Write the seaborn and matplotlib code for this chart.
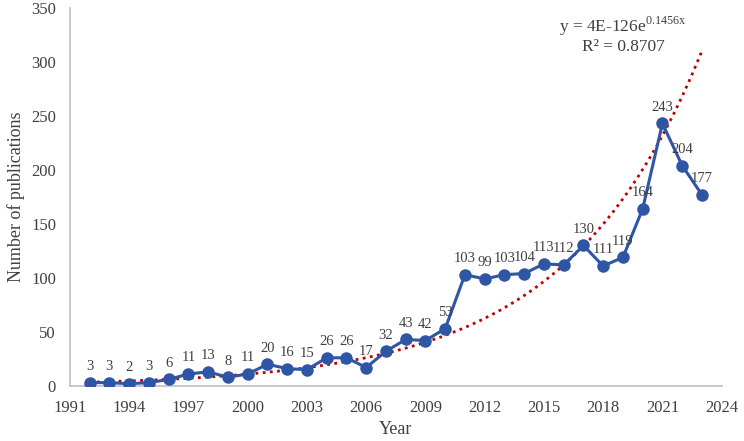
import numpy as np
import pandas as pd
import matplotlib
matplotlib.use("Agg")
import matplotlib.pyplot as plt
import seaborn as sns

# publications par année
years = list(range(1992, 2024))
counts = [3, 3, 2, 3, 6, 11, 13, 8, 11, 20, 16, 15, 26, 26, 17, 32,
          43, 42, 53, 103, 99, 103, 104, 113, 112, 130, 111, 119, 164, 243, 204, 177]
x_ticks = [1991, 1994, 1997, 2000, 2003, 2006, 2009, 2012, 2015, 2018, 2021, 2024]
y_ticks = [0, 50, 100, 150, 200, 250, 300, 350]
eq_text = "y = 4E-126e$^{\\mathrm{0.1456x}}$"
r2_text = "R² = 0.8707"

df = pd.DataFrame({"Year": years, "Publications": counts})

sns.set_theme(style="white")
plt.rcParams["font.family"] = ["Liberation Serif", "DejaVu Serif"]
plt.rcParams["mathtext.fontset"] = "custom"
plt.rcParams["mathtext.rm"] = "Liberation Serif"

fig = plt.figure(figsize=(7.44, 4.41), dpi=100)
ax = fig.add_axes([0.094, 0.125, 0.876, 0.857])

# courbe de tendance exponentielle (type Excel : regression sur ln y)
b, a = np.polyfit(df["Year"], np.log(df["Publications"]), 1)
xs = np.linspace(df["Year"].min(), df["Year"].max(), 300)
ax.plot(xs, np.exp(a + b * xs), color="#C00000", linestyle=(0, (1, 1.6)),
        linewidth=2.0, zorder=2)

sns.lineplot(data=df, x="Year", y="Publications", ax=ax, color="#2F55A5",
             linewidth=2.2, marker="o", markersize=9, markeredgewidth=0, zorder=3)

for yr, c in zip(df["Year"], df["Publications"]):
    ax.annotate(str(c), (yr, c), xytext=(0, 7), textcoords="offset points",
                ha="center", va="bottom", fontsize=10.5, color="#404040")

ax.text(2019.0, 333, eq_text, ha="center", va="center", fontsize=12.5, color="#404040")
ax.text(2019.0, 314, r2_text, ha="center", va="center", fontsize=12.5, color="#404040")

ax.set_xlim(1991, 2024)
ax.set_ylim(0, 350)
ax.set_xticks(x_ticks)
ax.set_yticks(y_ticks)
ax.tick_params(axis="x", labelsize=12, labelcolor="#404040", length=0, pad=10)
ax.tick_params(axis="y", labelsize=12, labelcolor="#404040", length=0, pad=10)
ax.set_xlabel("Year", fontsize=13, color="#404040", labelpad=4)
ax.set_ylabel("Number of publications", fontsize=13, color="#404040", labelpad=4)

for side in ["top", "right"]:
    ax.spines[side].set_visible(False)
for side in ["left", "bottom"]:
    ax.spines[side].set_color("#BFBFBF")
    ax.spines[side].set_linewidth(1.2)

fig.savefig("out.png", dpi=100)
